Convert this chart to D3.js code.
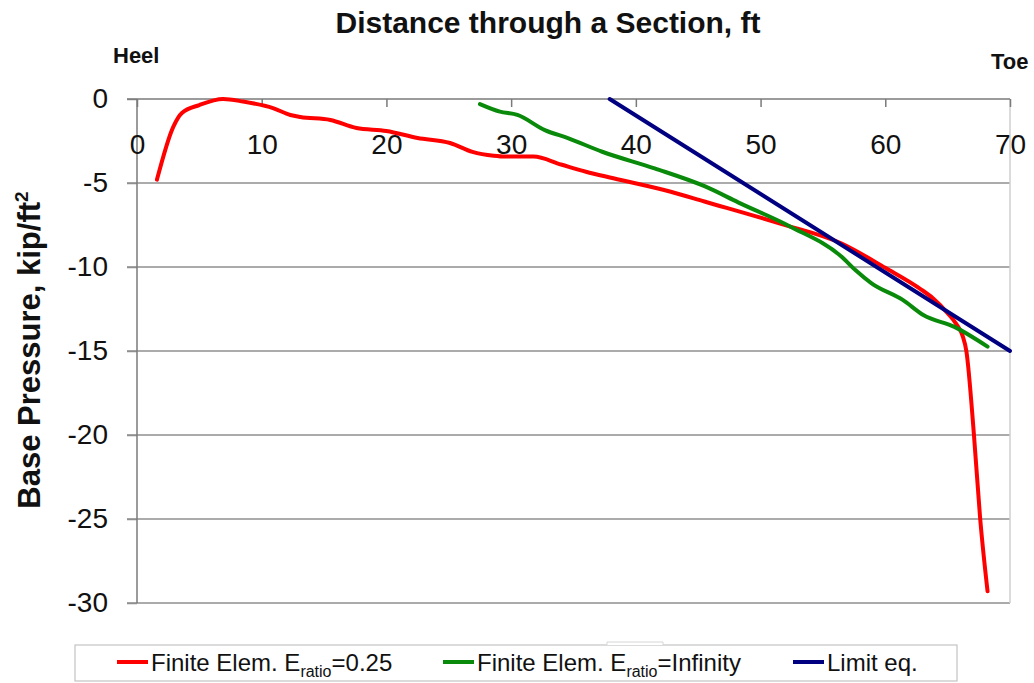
<!DOCTYPE html>
<html>
<head>
<meta charset="utf-8">
<script src="https://cdn.jsdelivr.net/npm/d3@7"></script>
<style>
  body { margin: 0; background: #fff; }
  svg { font-family: "Liberation Sans", Arial, sans-serif; }
</style>
</head>
<body>
<div id="chart"></div>
<script>
// distance (ft) and base pressure (kip/ft2)
var redX = [1.6, 2.9, 3.6, 5.0, 6.9, 8.5, 10.9, 12.3, 13.1, 15.5, 17.6, 20.0, 22.5, 25.1, 26.9, 28.6, 29.5, 31.8, 34.0, 36.0, 38.2, 42.8, 45.5, 51.5, 56.5, 60.0, 62.8, 63.8, 65.0, 65.7, 66.2, 66.5, 67.1, 67.6, 68.2];
var redY = [-4.8, -1.67, -0.83, -0.36, 0, -0.15, -0.54, -0.95, -1.07, -1.25, -1.73, -1.9, -2.32, -2.62, -3.15, -3.38, -3.43, -3.43, -3.9, -4.33, -4.72, -5.52, -6.1, -7.4, -8.6, -10.05, -11.3, -11.85, -12.75, -13.4, -14.1, -15.0, -19.9, -24.9, -29.3];

var greenX = [27.5, 29.1, 30.5, 32.7, 34.6, 37.3, 41.5, 45.6, 48.2, 52.4, 56.5, 57.6, 58.9, 61.4, 63.05, 65.5, 68.2];
var greenY = [-0.3, -0.75, -0.95, -1.85, -2.34, -3.14, -4.13, -5.22, -6.15, -7.6, -9.39, -10.18, -10.97, -11.96, -12.86, -13.55, -14.74];

var limitX = [37.9, 70];
var limitY = [0, -15];

var xTicks = [0, 10, 20, 30, 40, 50, 60, 70];
var yTicks = [0, -5, -10, -15, -20, -25, -30];

var width = 1034, height = 683;
var plotLeft = 137, plotRight = 1010, plotTop = 99, plotBottom = 603;

var svg = d3.select("#chart").append("svg")
    .attr("width", width)
    .attr("height", height);

var x = d3.scaleLinear().domain([0, 70]).range([plotLeft, plotRight]);
var y = d3.scaleLinear().domain([0, -30]).range([plotTop, plotBottom]);

// gridlines
svg.append("g").selectAll("line")
    .data(yTicks.slice(1))
    .enter().append("line")
    .attr("x1", plotLeft - 10).attr("x2", plotRight)
    .attr("y1", function (d) { return y(d); })
    .attr("y2", function (d) { return y(d); })
    .attr("stroke", "#8f8f8f")
    .attr("stroke-width", 1.5);

// right border
svg.append("line")
    .attr("x1", plotRight).attr("x2", plotRight)
    .attr("y1", plotTop).attr("y2", plotBottom)
    .attr("stroke", "#cfcfcf").attr("stroke-width", 1.5);

// y axis, plain hyphen for minus like the original
var yAxis = svg.append("g")
    .attr("transform", "translate(" + plotLeft + ",0)")
    .call(d3.axisLeft(y).tickValues(yTicks).tickSize(10).tickPadding(19)
        .tickFormat(function (d) { return String(d); }));
yAxis.select(".domain").remove();
yAxis.selectAll("line").attr("stroke", "#8f8f8f").attr("stroke-width", 1.5);
yAxis.selectAll("text")
    .attr("font-size", "28px")
    .attr("font-family", "Liberation Sans, Arial, sans-serif")
    .attr("fill", "#111");
yAxis.append("line")
    .attr("y1", plotTop).attr("y2", plotBottom)
    .attr("stroke", "#7a7a7a").attr("stroke-width", 1.5);

// x axis along zero
var xAxis = svg.append("g")
    .attr("transform", "translate(0," + y(0) + ")")
    .call(d3.axisBottom(x).tickValues(xTicks).tickSize(8).tickPadding(27));
xAxis.select(".domain").remove();
xAxis.selectAll("line").attr("stroke", "#7a7a7a").attr("stroke-width", 1.5);
xAxis.selectAll("text")
    .attr("font-size", "28px")
    .attr("font-family", "Liberation Sans, Arial, sans-serif")
    .attr("fill", "#111");
xAxis.append("line")
    .attr("x1", plotLeft - 10).attr("x2", plotRight)
    .attr("stroke", "#7a7a7a").attr("stroke-width", 1.5);

// series
var line = d3.line()
    .x(function (d) { return x(d[0]); })
    .y(function (d) { return y(d[1]); })
    .curve(d3.curveMonotoneX);

var series = [
    { xs: redX, ys: redY, color: "#ff0000" },
    { xs: greenX, ys: greenY, color: "#0a8a0a" },
    { xs: limitX, ys: limitY, color: "#000080" }
];

svg.append("g").selectAll("path")
    .data(series)
    .enter().append("path")
    .attr("d", function (s) { return line(d3.zip(s.xs, s.ys)); })
    .attr("fill", "none")
    .attr("stroke", function (s) { return s.color; })
    .attr("stroke-width", 4)
    .attr("stroke-linecap", "round")
    .attr("stroke-linejoin", "round");

// titles
svg.append("text")
    .text("Distance through a Section, ft")
    .attr("x", 548).attr("y", 33)
    .attr("text-anchor", "middle")
    .attr("font-size", "30px").attr("font-weight", "bold")
    .attr("fill", "#111");

svg.append("text")
    .text("Heel")
    .attr("x", 113).attr("y", 63)
    .attr("font-size", "22px").attr("font-weight", "bold")
    .attr("fill", "#111");

svg.append("text")
    .text("Toe")
    .attr("x", 991).attr("y", 69)
    .attr("font-size", "22px").attr("font-weight", "bold")
    .attr("fill", "#111");

var yTitle = svg.append("text")
    .attr("transform", "translate(40,350) rotate(-90)")
    .attr("text-anchor", "middle")
    .attr("font-size", "31px").attr("font-weight", "bold")
    .attr("fill", "#111");
yTitle.append("tspan").text("Base Pressure, kip/ft");
yTitle.append("tspan").text("2").attr("font-size", "19px").attr("dy", "-12");

// legend
var legend = svg.append("g");
legend.append("rect")
    .attr("x", 75).attr("y", 645)
    .attr("width", 882).attr("height", 36)
    .attr("fill", "#fff")
    .attr("stroke", "#c4c4c4").attr("stroke-width", 1.2);
legend.append("path")
    .attr("d", "M607,645 L607,642 L663,642 L663,645")
    .attr("fill", "#fff")
    .attr("stroke", "#d6d6d6").attr("stroke-width", 1);

var legendItems = [
    { x: 117, color: "#ff0000", pre: "Finite Elem. E", sub: "ratio", post: "=0.25" },
    { x: 443, color: "#0a8a0a", pre: "Finite Elem. E", sub: "ratio", post: "=Infinity" },
    { x: 793, color: "#000080", pre: "Limit eq.", sub: "", post: "" }
];

var item = legend.selectAll(".item")
    .data(legendItems)
    .enter().append("g")
    .attr("class", "item")
    .attr("transform", function (d) { return "translate(" + d.x + ",0)"; });

item.append("line")
    .attr("x1", 0).attr("x2", 31)
    .attr("y1", 662).attr("y2", 662)
    .attr("stroke", function (d) { return d.color; })
    .attr("stroke-width", 4);

var itemText = item.append("text")
    .attr("x", 34).attr("y", 671)
    .attr("font-size", "24px")
    .attr("fill", "#111");
itemText.append("tspan").text(function (d) { return d.pre; });
itemText.append("tspan").text(function (d) { return d.sub; })
    .attr("font-size", "16px").attr("dy", 6);
itemText.append("tspan").text(function (d) { return d.post; })
    .attr("dy", function (d) { return d.sub ? -6 : 0; });
</script>
</body>
</html>
